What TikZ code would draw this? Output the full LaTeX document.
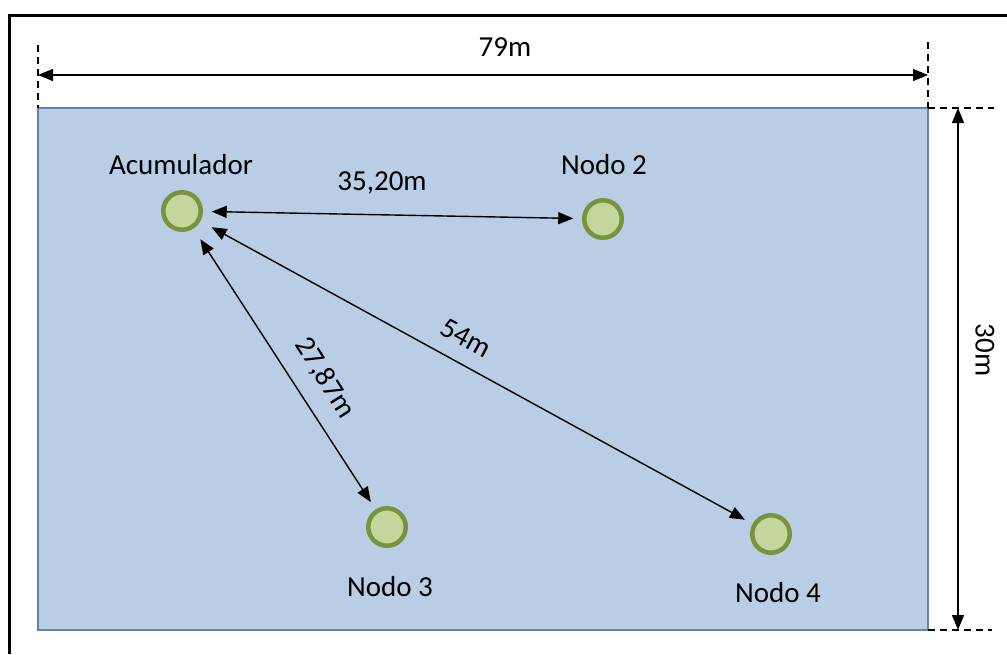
\documentclass[tikz,border=0pt]{standalone}
\usepackage{fontspec}
\setmainfont{Carlito}
\usetikzlibrary{arrows.meta}
\definecolor{areafill}{HTML}{B9CDE5}
\definecolor{areadraw}{HTML}{5F82AE}
\definecolor{nodefill}{HTML}{C3D69B}
\definecolor{nodedraw}{HTML}{77933C}
\tikzset{
  lbl/.style={font=\fontsize{29}{34}\selectfont, inner sep=0pt, text=black},
  sensor/.style={circle, draw=nodedraw, fill=nodefill, line width=4.5pt, minimum size=37.5pt, inner sep=0pt, outer sep=11pt},
  dim/.style={line width=1.4pt, {Triangle[length=15pt,width=12pt]}-{Triangle[length=15pt,width=12pt]}},
  ext/.style={line width=1.3pt, dash pattern=on 7pt off 5pt},
}
\begin{document}
\begin{tikzpicture}[x=1pt,y=-1pt]
\useasboundingbox (0,0) rectangle (1007,654);
% outer frame
\draw[line width=2.5pt] (9.5,654) -- (9.5,15.5) -- (1007,15.5);
% area
\draw[fill=areafill, draw=areadraw, line width=2pt] (38,108) rectangle (928,630);
% extension lines
\coordinate (tl) at (38,108);
\coordinate (tr) at (928,108);
\coordinate (br) at (928,630);
\draw[ext] (38,45) -- (tl);
\draw[ext] (928,42) -- (tr);
\draw[ext] (tr) -- (994,108);
\draw[ext] (br) -- (992,630);
% dimension arrows
\coordinate (wl) at (38,75);
\coordinate (wr) at (928,75);
\coordinate (ht) at (958,108);
\coordinate (hb) at (958,630);
\draw[dim] (wl) -- (wr);
\draw[dim] (ht) -- (hb);
\node[lbl] (w) at (505,47) {79m};
\node[lbl, rotate=-90] (h) at (985,350) {30m};
% nodes
\node[sensor] (acc) at (182,211) {};
\node[sensor] (n2) at (603,219) {};
\node[sensor] (n3) at (387,527) {};
\node[sensor] (n4) at (771,534) {};
\node[lbl] (lacc) at (181,165) {Acumulador};
\node[lbl] (l2) at (604,165) {Nodo 2};
\node[lbl] (l3) at (390,587) {Nodo 3};
\node[lbl] (l4) at (778,593) {Nodo 4};
% connectors
\draw[dim] (acc) -- (n2);
\draw[dim, shorten <=4pt] (acc) -- (n3);
\draw[dim, shorten <=4pt] (acc) -- (n4);
\node[lbl] (d2) at (382,183) {35,20m};
\node[lbl, rotate=-57.9] (d3) at (325,378) {27,87m};
\node[lbl, rotate=-28.6] (d4) at (466,338) {54m};
\end{tikzpicture}
\end{document}
